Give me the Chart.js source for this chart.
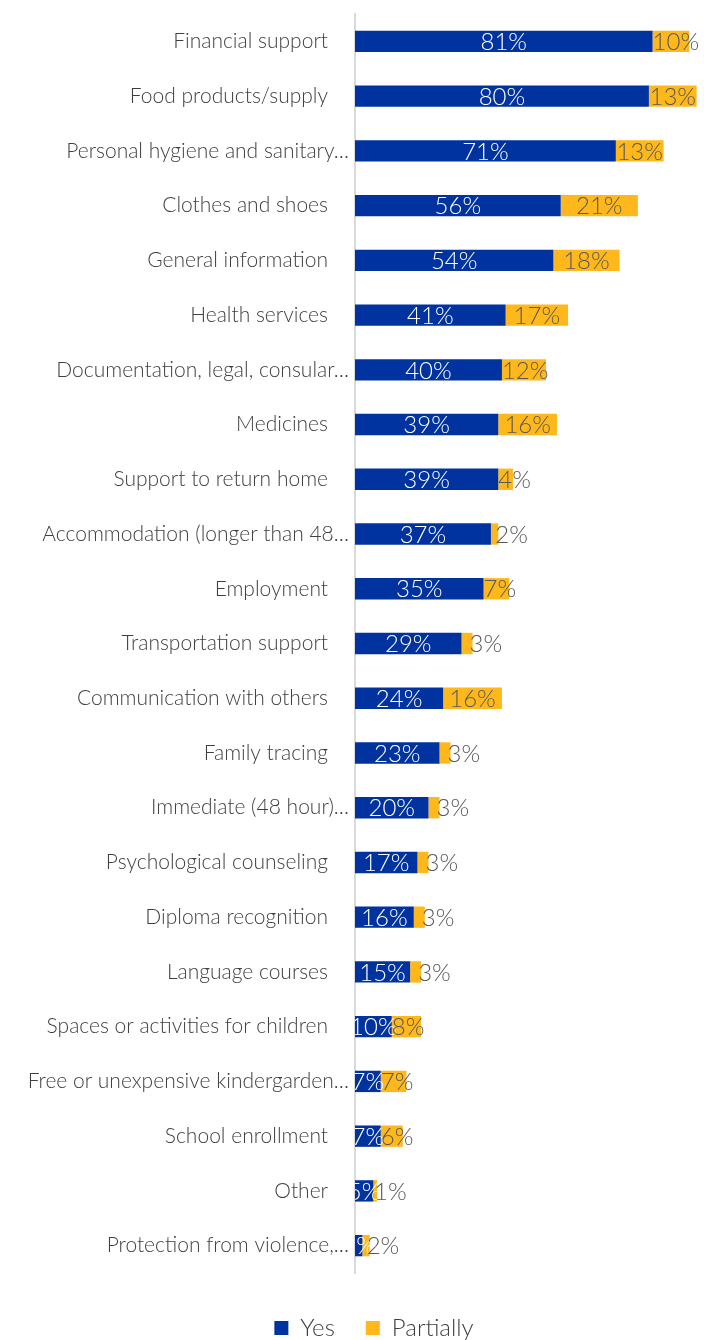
<!DOCTYPE html>
<html>
<head>
<meta charset="utf-8">
<script src="https://cdn.jsdelivr.net/npm/chart.js@4.4.1/dist/chart.umd.min.js"></script>
<style>
  html, body { margin: 0; padding: 0; background: #ffffff; overflow: hidden; }
  #wrap { width: 704px; height: 1340px; overflow: hidden; }
</style>
</head>
<body>
<div id="wrap"><canvas id="c" width="704" height="1340"></canvas></div>
<script>
// Types of support received, share of respondents
const categories = [
  'Financial support',
  'Food products/supply',
  'Personal hygiene and sanitary\u2026',
  'Clothes and shoes',
  'General information',
  'Health services',
  'Documentation, legal, consular\u2026',
  'Medicines',
  'Support to return home',
  'Accommodation (longer than 48\u2026',
  'Employment',
  'Transportation support',
  'Communication with others',
  'Family tracing',
  'Immediate (48 hour)\u2026',
  'Psychological counseling',
  'Diploma recognition',
  'Language courses',
  'Spaces or activities for children',
  'Free or unexpensive kindergarden\u2026',
  'School enrollment',
  'Other',
  'Protection from violence,\u2026'
];
const yesValues = [81, 80, 71, 56, 54, 41, 40, 39, 39, 37, 35, 29, 24, 23, 20, 17, 16, 15, 10, 7, 7, 5, 2];
const partiallyValues = [10, 13, 13, 21, 18, 17, 12, 16, 4, 2, 7, 3, 16, 3, 3, 3, 3, 3, 8, 7, 6, 1, 2];
const seriesNames = ['Yes', 'Partially'];

const FONT = 'Lato, "Open Sans", sans-serif';
const BLUE = '#0033A0';
const YELLOW = '#FFB81C';

// Value labels drawn on each bar segment
const segmentLabels = {
  id: 'segmentLabels',
  afterLayout(chart) {
    // centre the legend under the bars rather than the whole canvas
    if (chart.legend) chart.legend.left += 44;
  },
  afterDatasetsDraw(chart) {
    const ctx = chart.ctx;
    const area = chart.chartArea;
    ctx.save();
    ctx.beginPath();
    ctx.rect(area.left, 0, chart.width - area.left, chart.height);
    ctx.clip();
    ctx.font = '300 24px ' + FONT;
    ctx.textBaseline = 'middle';
    chart.data.datasets.forEach((ds, di) => {
      const meta = chart.getDatasetMeta(di);
      meta.data.forEach((bar, i) => {
        const p = bar.getProps(['x', 'y', 'base'], true);
        const left = Math.min(p.x, p.base);
        const right = Math.max(p.x, p.base);
        const w = right - left;
        const text = ds.data[i] + '%';
        const tw = ctx.measureText(text).width;
        let x;
        if (di === 0 || tw <= w) {
          x = (left + right) / 2;
        } else if (w >= 12) {
          x = left + tw / 2;
        } else {
          x = right + tw / 2 - 3;
        }
        ctx.fillStyle = di === 0 ? '#ffffff' : '#595959';
        ctx.textAlign = 'center';
        ctx.fillText(text, x, p.y + 1);
      });
    });
    ctx.restore();
  }
};

new Chart(document.getElementById('c'), {
  type: 'bar',
  data: {
    labels: categories,
    datasets: [
      { label: seriesNames[0], data: yesValues, backgroundColor: BLUE },
      { label: seriesNames[1], data: partiallyValues, backgroundColor: YELLOW }
    ]
  },
  options: {
    indexAxis: 'y',
    responsive: false,
    animation: false,
    devicePixelRatio: 1,
    layout: { padding: { top: 14, left: 0, right: 0, bottom: -10 } },
    datasets: { bar: { categoryPercentage: 1, barPercentage: 0.39, borderWidth: 0 } },
    scales: {
      x: {
        stacked: true,
        min: 0,
        max: 95,
        position: 'bottom',
        afterFit(scale) { scale.height = 12; },
        ticks: { display: false },
        grid: { display: false, drawTicks: false },
        border: { display: false }
      },
      y: {
        stacked: true,
        afterFit(scale) {
          scale.width = 355;
          scale.paddingTop = 0;
          scale.paddingBottom = 0;
        },
        grid: { display: false, drawTicks: false },
        border: { display: true, color: '#d9d9d9', width: 2 },
        ticks: {
          padding: 6,
          color: '#3f3f3f',
          font: { family: FONT, size: 21, weight: 300 },
          callback(v) {
            const s = this.getLabelForValue(v);
            return s.endsWith('\u2026') ? s : s + '\u2003\u2005';
          }
        }
      }
    },
    plugins: {
      tooltip: { enabled: false },
      legend: {
        position: 'bottom',
        labels: {
          boxWidth: 14,
          boxHeight: 14,
          padding: 31,
          color: '#3f3f3f',
          font: { family: FONT, size: 24, weight: 300 }
        }
      }
    }
  },
  plugins: [segmentLabels]
});
</script>
</body>
</html>
